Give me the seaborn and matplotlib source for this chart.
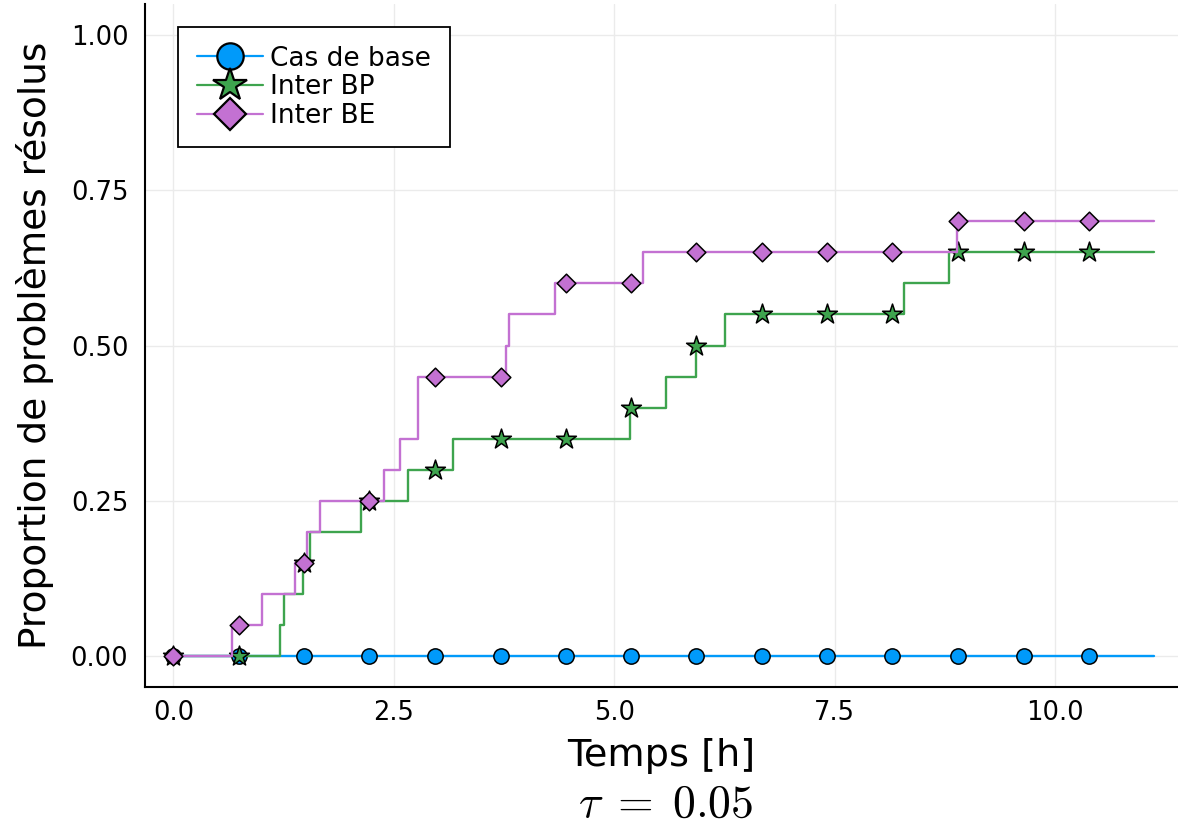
import numpy as np
import pandas as pd
import matplotlib
matplotlib.use("Agg")
import matplotlib.pyplot as plt
from matplotlib.lines import Line2D
import seaborn as sns

# ---------------- data ----------------
series_names = ["Cas de base", "Inter BP", "Inter BE"]

base_t = [0.0, 11.12]
base_y = [0.0, 0.0]

bp_t = [0.0, 1.21, 1.26, 1.47, 1.55, 2.13, 2.66, 3.17, 5.18, 5.58, 5.92, 6.26, 8.28, 8.79, 11.12]
bp_y = [0.0, 0.05, 0.10, 0.15, 0.20, 0.25, 0.30, 0.35, 0.40, 0.45, 0.50, 0.55, 0.60, 0.65, 0.65]

be_t = [0.0, 0.66, 1.01, 1.38, 1.51, 1.66, 2.39, 2.57, 2.77, 3.77, 3.81, 4.33, 5.32, 8.88, 11.12]
be_y = [0.0, 0.05, 0.10, 0.15, 0.20, 0.25, 0.30, 0.35, 0.45, 0.50, 0.55, 0.60, 0.65, 0.70, 0.70]

marker_t = [0.0, 0.74, 1.48, 2.22, 2.97, 3.71, 4.45, 5.19, 5.93, 6.67, 7.41, 8.15, 8.90, 9.64, 10.38]
base_marker_y = [0.0] * 15
bp_marker_y = [0.0, 0.0, 0.15, 0.25, 0.30, 0.35, 0.35, 0.40, 0.50, 0.55, 0.55, 0.55, 0.65, 0.65, 0.65]
be_marker_y = [0.0, 0.05, 0.15, 0.25, 0.45, 0.45, 0.60, 0.60, 0.65, 0.65, 0.65, 0.65, 0.70, 0.70, 0.70]

x_ticks = [0.0, 2.5, 5.0, 7.5, 10.0]
x_tick_labels = ["0.0", "2.5", "5.0", "7.5", "10.0"]
y_ticks = [0.0, 0.25, 0.50, 0.75, 1.00]
y_tick_labels = ["0.00", "0.25", "0.50", "0.75", "1.00"]

colors = ["#009AFA", "#3EA44E", "#C371D2"]
markers = ["o", "*", "D"]
marker_sizes = [11, 15, 9.5]
legend_marker_sizes = [19, 25, 16]

# ---------------- figure ----------------
sns.set_theme(style="white")
plt.rcParams["font.family"] = ["DejaVu Sans"]
plt.rcParams["mathtext.fontset"] = "cm"
plt.rcParams["text.color"] = "black"
plt.rcParams["axes.labelcolor"] = "black"

W, H = 1178, 827
fig = plt.figure(figsize=(W / 100, H / 100), dpi=100)
ax = fig.add_axes([145 / W, 1 - 687 / H, (1178 - 145) / W, (687 - 4) / H])

steps = [(base_t, base_y), (bp_t, bp_y), (be_t, be_y)]
mks = [base_marker_y, bp_marker_y, be_marker_y]

for i, name in enumerate(series_names):
    t, y = steps[i]
    df = pd.DataFrame({"t": t, "y": y})
    sns.lineplot(data=df, x="t", y="y", ax=ax, color=colors[i], lw=1.7,
                 drawstyle="steps-post", estimator=None, sort=False,
                 zorder=2 + 2 * i, legend=False)
    dm = pd.DataFrame({"t": marker_t, "y": mks[i]})
    sns.scatterplot(data=dm, x="t", y="y", ax=ax, color=colors[i],
                    marker=markers[i], s=marker_sizes[i] ** 2,
                    edgecolor="black", linewidth=1.1, zorder=3 + 2 * i,
                    legend=False)

ax.set_xlim(-0.321, 11.39)
ax.set_ylim(-0.05, 1.05)
ax.set_xticks(x_ticks)
ax.set_xticklabels(x_tick_labels)
ax.set_yticks(y_ticks)
ax.set_yticklabels(y_tick_labels)

ax.grid(True, color="#ebebeb", lw=1.0)
ax.set_axisbelow(True)
for side in ["top", "right"]:
    ax.spines[side].set_visible(False)
for side in ["left", "bottom"]:
    ax.spines[side].set_color("black")
    ax.spines[side].set_linewidth(1.5)

ax.tick_params(axis="both", direction="in", length=5, width=1.5,
               color="black", labelsize=18.5, labelcolor="black")
ax.tick_params(axis="x", pad=9)
ax.tick_params(axis="y", pad=12)

ax.set_xlabel("Temps [h]", fontsize=27.5, color="black", labelpad=9)
ax.set_ylabel("Proportion de problèmes résolus", fontsize=27, color="black", labelpad=12)

fig.text(0.565, 0.027, r"$\tau\;=\;0.05$", fontsize=33, ha="center", va="center",
         color="black")

handles = [Line2D([0], [0], color=colors[i], lw=1.6, marker=markers[i],
                  markersize=legend_marker_sizes[i], markerfacecolor=colors[i],
                  markeredgecolor="black", markeredgewidth=1.6)
           for i in range(3)]
leg = ax.legend(handles, series_names, loc="upper left",
                bbox_to_anchor=(0.032, 0.966), borderaxespad=0,
                fontsize=19, frameon=True, fancybox=False, framealpha=1,
                edgecolor="black", handlelength=2.5, handletextpad=0.3,
                labelspacing=0.1, borderpad=0.7)
leg.get_frame().set_linewidth(1.3)
for txt in leg.get_texts():
    txt.set_color("black")

fig.savefig("out.png", dpi=100)
